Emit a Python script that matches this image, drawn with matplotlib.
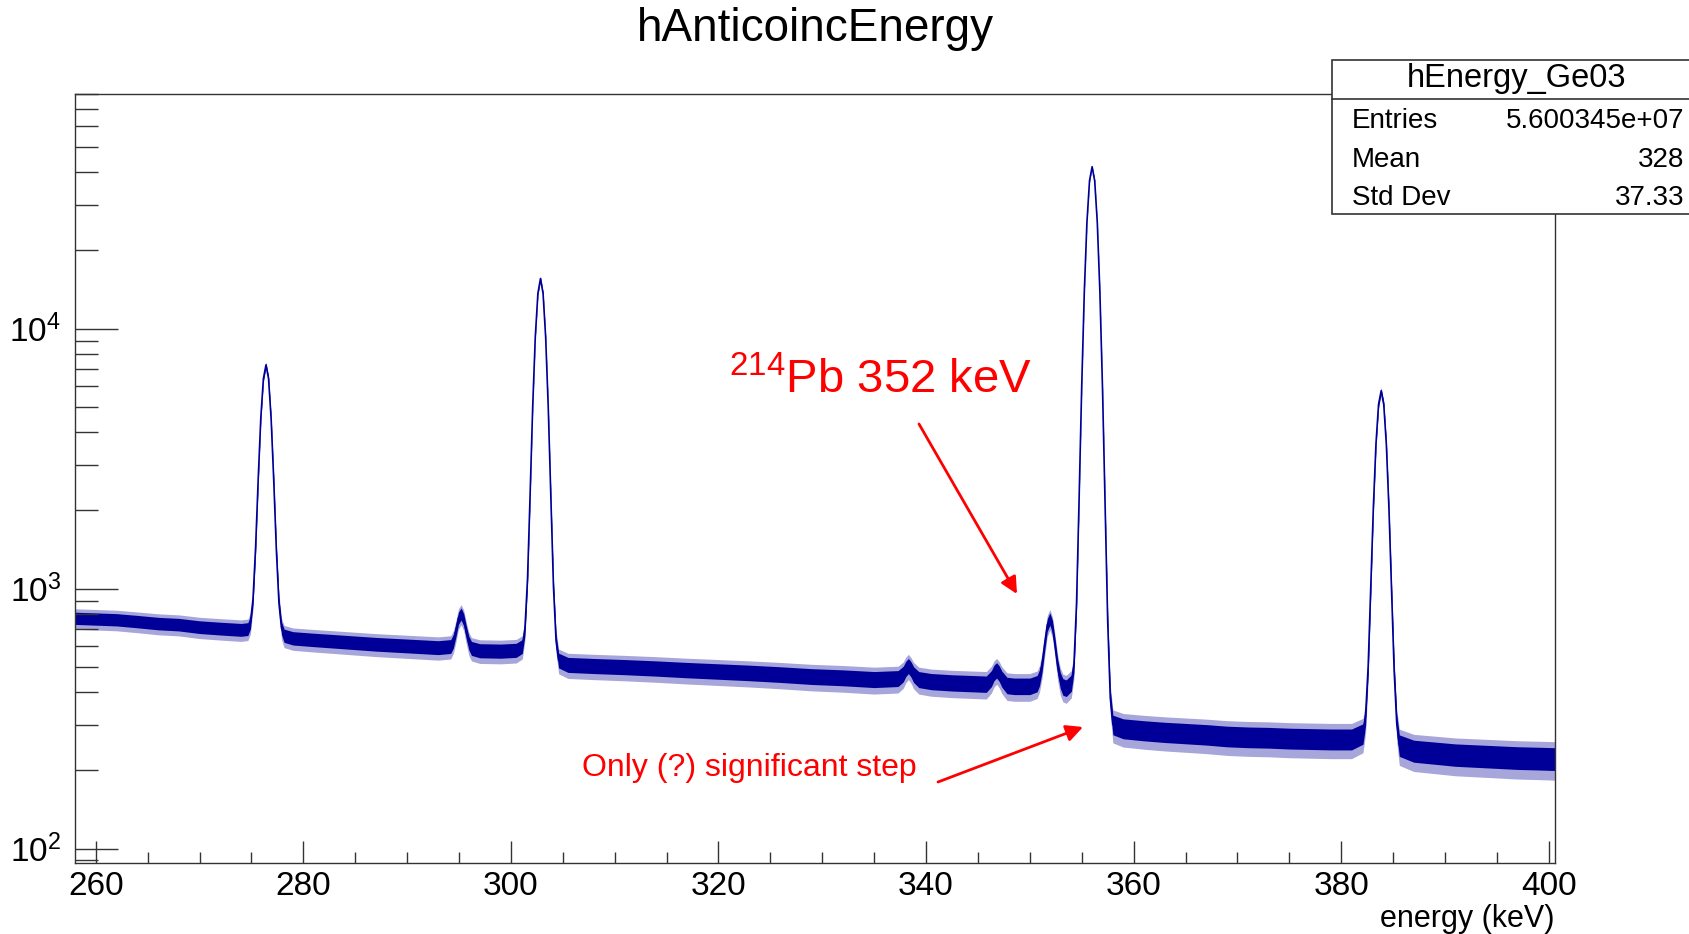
"""hAnticoincEnergy: Ge03 spectrum, 258-400 keV, log scale."""

import numpy as np
import matplotlib.pyplot as plt
from matplotlib.patches import Rectangle
from matplotlib.lines import Line2D
from matplotlib.ticker import MultipleLocator, LogLocator, NullFormatter

# continuum between the lines (keV, counts per bin)
bg_energy = [258.0, 260, 262, 264, 266, 268, 270, 272, 274,
             279, 281, 283, 285, 287, 289, 291, 293,
             297, 299, 300.5,
             305.5, 308, 311, 314, 317, 320, 323, 326, 329, 332, 335,
             340.5, 342.5, 344.5,
             348.5, 350,
             353.5,
             359, 361, 363, 365, 367, 369, 371, 373, 375, 377, 379, 381,
             387, 389, 391, 393, 395, 397, 399, 400.6]
bg_counts = [770, 765, 760, 748, 735, 728, 712, 703, 695,
             645, 636, 628, 620, 612, 606, 600, 594,
             578, 576, 580,
             510, 505, 500, 494, 487, 481, 475, 468, 460, 455, 448,
             440, 435, 432,
             422, 422,
             415,
             290, 285, 281, 278, 275, 271, 269, 268, 266, 265, 264, 264,
             238, 234, 230, 228, 226, 224, 223, 222]

# samples across the lines
peak_energy = [
    # 276.4
    274.65, 274.9, 275.15, 275.4, 275.65, 275.9, 276.15, 276.4,
    276.65, 276.9, 277.15, 277.4, 277.65, 277.9, 278.15,
    # 295.2
    294.2, 294.45, 294.7, 294.95, 295.2, 295.45, 295.7, 295.95, 296.2,
    # 302.85
    301.1, 301.35, 301.6, 301.85, 302.1, 302.35, 302.6, 302.85,
    303.1, 303.35, 303.6, 303.85, 304.1, 304.35, 304.6,
    # 338.3
    337.3, 337.8, 338.05, 338.3, 338.55, 338.8, 339.3,
    # 346.8
    345.8, 346.3, 346.55, 346.8, 347.05, 347.3, 347.8,
    # 351.9
    350.7, 350.93, 351.18, 351.43, 351.68, 351.93, 352.18, 352.43,
    352.68, 352.93, 353.18,
    # 356.0
    354.0, 354.25, 354.5, 354.75, 355.0, 355.25, 355.5, 355.75, 356.0,
    356.25, 356.5, 356.75, 357.0, 357.25, 357.5, 357.75, 358.0,
    # 383.85
    382.1, 382.35, 382.6, 382.85, 383.1, 383.35, 383.6, 383.85,
    384.1, 384.35, 384.6, 384.85, 385.1, 385.35, 385.6,
]
peak_counts = [
    700, 740, 910, 1440, 2630, 4520, 6420, 7260,
    6420, 4480, 2600, 1410, 880, 705, 660,
    600, 628, 691, 771, 800, 761, 681, 618, 590,
    600, 700, 1090, 2300, 5020, 9320, 13680, 15600,
    13650, 9250, 4950, 2230, 1020, 630, 530,
    452, 470, 492, 505, 490, 468, 448,
    430, 452, 475, 486, 472, 450, 425,
    432, 455, 512, 614, 725, 765, 715, 604,
    502, 445, 420,
    434, 510, 880, 2250, 6060, 13940, 25650, 37100, 42000,
    37050, 25550, 13810, 5930, 2120, 750, 380, 300,
    277, 325, 505, 1010, 2060, 3610, 5120, 5770,
    5110, 3590, 2030, 990, 485, 303, 250,
]

stat_labels = ["Entries", "Mean", "Std Dev"]
stat_values = ["5.600345e+07", "328", "37.33"]

W, H = 1690, 934


def fx(px):
    return px / W


def fy(py):
    return 1 - py / H


def main() -> None:
    plt.rcParams["font.family"] = ["Liberation Sans", "DejaVu Sans"]
    plt.rcParams["mathtext.fontset"] = "custom"
    plt.rcParams["mathtext.rm"] = "Liberation Sans"
    plt.rcParams["mathtext.it"] = "Liberation Sans:italic"
    plt.rcParams["mathtext.bf"] = "Liberation Sans:bold"

    energy = np.array(bg_energy + peak_energy, dtype=float)
    counts = np.array(bg_counts + peak_counts, dtype=float)
    order = np.argsort(energy)
    energy, counts = energy[order], counts[order]
    # statistical spread of the bin contents (sqrt N)
    err = np.sqrt(counts)

    fig = plt.figure(figsize=(W / 100, H / 100), dpi=100)
    ax = fig.add_axes([fx(75), fy(863), fx(1555) - fx(75), fy(94) - fy(863)])

    navy = "#000099"
    ax.fill_between(energy, counts - 2.6 * err, counts + 2.4 * err,
                    color=navy, alpha=0.35, lw=0)
    ax.fill_between(energy, counts - 1.5 * err, counts + 1.5 * err,
                    color=navy, lw=0)
    ax.plot(energy, counts, color=navy, lw=1.2)

    ax.set_yscale("log")
    ax.set_xlim(258, 400.6)
    ax.set_ylim(88, 8.0e4)

    ax.xaxis.set_major_locator(MultipleLocator(20))
    ax.xaxis.set_minor_locator(MultipleLocator(5))
    ax.yaxis.set_major_locator(LogLocator(base=10))
    ax.yaxis.set_minor_locator(LogLocator(base=10, subs=np.arange(2, 10)))
    ax.yaxis.set_minor_formatter(NullFormatter())

    ax.tick_params(axis="both", which="both", direction="in",
                   top=False, right=False, width=1, color="#333333")
    ax.tick_params(axis="x", which="major", length=16, pad=6, labelsize=24)
    ax.tick_params(axis="x", which="minor", length=8)
    ax.tick_params(axis="y", which="major", length=31, pad=10, labelsize=24)
    ax.tick_params(axis="y", which="minor", length=16.5)
    for s in ax.spines.values():
        s.set_linewidth(1.0)
        s.set_color("#333333")

    fig.text(fx(815), fy(29), "hAnticoincEnergy", ha="center", va="center",
             fontsize=33)
    fig.text(fx(1555), fy(919), "energy (keV)", ha="right", va="center",
             fontsize=22)

    # stats box
    fig.add_artist(Rectangle((fx(1332), fy(214)), 0.3, fy(60) - fy(214),
                             transform=fig.transFigure, facecolor="white",
                             edgecolor="#333333", lw=1.2, zorder=5))
    fig.add_artist(Line2D([fx(1332), 1.0], [fy(99), fy(99)],
                          transform=fig.transFigure, color="#333333",
                          lw=1.2, zorder=6))
    fig.text(fx(1517), fy(79), "hEnergy_Ge03", ha="center", va="center",
             fontsize=23.5, zorder=7)
    for i, (lab, val) in enumerate(zip(stat_labels, stat_values)):
        yy = fy(121 + 38.5 * i)
        fig.text(fx(1352), yy, lab, ha="left", va="center", fontsize=20,
                 zorder=7)
        fig.text(fx(1684), yy, val, ha="right", va="center", fontsize=20,
                 zorder=7)

    # annotations
    fig.text(fx(729), fy(381), r"$^{214}$Pb 352 keV", ha="left",
             va="center", fontsize=34, color="red")
    fig.text(fx(582), fy(768), "Only (?) significant step", ha="left",
             va="center", fontsize=23, color="red")
    arrow = dict(arrowstyle="-|>", color="red", lw=2, mutation_scale=25,
                 shrinkA=0, shrinkB=0)
    ax.annotate("", xy=(fx(1017), fy(594)), xycoords="figure fraction",
                xytext=(fx(919), fy(424)), textcoords="figure fraction",
                arrowprops=arrow)
    ax.annotate("", xy=(fx(1083), fy(727)), xycoords="figure fraction",
                xytext=(fx(938), fy(782)), textcoords="figure fraction",
                arrowprops=arrow)

    fig.savefig("out.png", dpi=100)


if __name__ == "__main__":
    main()
